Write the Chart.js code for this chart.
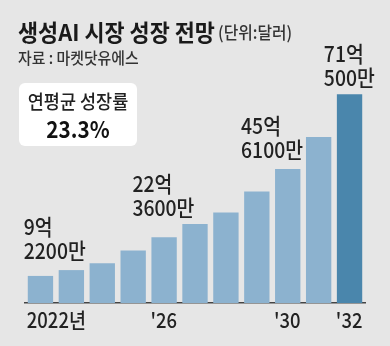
<!DOCTYPE html>
<html>
<head>
<meta charset="utf-8">
<script src="https://cdn.jsdelivr.net/npm/chart.js@4"></script>
<style>
  html, body { margin: 0; padding: 0; background: #e6e6e6; }
  canvas { display: block; }
</style>
</head>
<body>
<canvas id="myChart" width="390" height="346"></canvas>
<script>
// market size in 억 달러, 2022 ~ 2032
const years = ["2022", "2023", "2024", "2025", "2026", "2027", "2028", "2029", "2030", "2031", "2032"];
const marketSize = [9.22, 11.2, 13.5, 17.9, 22.36, 26.9, 30.8, 38.0, 45.61, 56.5, 71.05];
const tickLabels = ["2022년", "", "", "", "'26", "", "", "", "'30", "", "'32"];
const calloutIndex = [0, 4, 8, 10];
const calloutText = [["9억", "2200만"], ["22억", "3600만"], ["45억", "6100만"], ["71억", "500만"]];

// where each callout sits, relative to its bar (left edge / top)
const calloutPos = [
  { dx: -4, dy: -25 },
  { dx: -19, dy: -29 },
  { dx: -34, dy: -19 },
  { dx: -13, dy: -16 },
];

const FONT = '"Noto Sans CJK KR", "Noto Sans", sans-serif';

// y is the visual centre of the glyphs
function txt(ctx, s, x, y, size, weight, color, sx, align) {
  ctx.save();
  ctx.translate(x, y + 0.37 * size);
  ctx.scale(sx, 1);
  ctx.font = weight + " " + size + "px " + FONT;
  ctx.fillStyle = color;
  ctx.textBaseline = "alphabetic";
  ctx.textAlign = align || "left";
  ctx.fillText(s, 0, 0);
  ctx.restore();
}

//background, header and growth box
const decor = {
  id: "decor",
  beforeDraw(chart) {
    const ctx = chart.ctx;
    ctx.save();
    ctx.fillStyle = "#e6e6e6";
    ctx.fillRect(0, 0, chart.width, chart.height);
    ctx.fillStyle = "#ffffff";
    ctx.beginPath();
    ctx.roundRect(19, 83, 118, 63, 6);
    ctx.fill();
    ctx.restore();
  },
  afterDraw(chart) {
    const ctx = chart.ctx;
    txt(ctx, "생성AI 시장 성장 전망", 18, 32, 23, "bold", "#1a1a1a", 0.95);
    txt(ctx, "(단위:달러)", 218, 33, 17, "500", "#333", 0.93);
    txt(ctx, "자료 : 마켓닷유에스", 18, 58, 16, "500", "#333", 0.93);
    txt(ctx, "연평균 성장률", 78, 102, 19, "500", "#222", 0.92, "center");
    txt(ctx, "23.3%", 78, 129, 23, "bold", "#111", 0.9, "center");

    const bars = chart.getDatasetMeta(0).data;
    // x labels, left aligned with the bar
    tickLabels.forEach((lab, i) => {
      if (!lab) return;
      const b = bars[i];
      txt(ctx, lab, b.x - b.width / 2 - 1, 320, 21, "500", "#222", 0.88);
    });
    // value callouts
    calloutIndex.forEach((idx, k) => {
      const b = bars[idx];
      const p = calloutPos[k];
      const x = b.x - b.width / 2 + p.dx;
      const y2 = b.y + p.dy;
      txt(ctx, calloutText[k][0], x, y2 - 24, 22, "500", "#222", 0.88);
      txt(ctx, calloutText[k][1], x, y2, 22, "500", "#222", 0.88);
    });
  },
};

const barColors = years.map((y, i) => (i === years.length - 1 ? "#4a86ac" : "#8cb2cf"));

const ctx = document.getElementById("myChart").getContext("2d");
const chart = new Chart(ctx, {
  type: "bar",
  data: {
    labels: years,
    datasets: [
      {
        data: marketSize,
        backgroundColor: barColors,
        borderWidth: 0,
        barPercentage: 0.82,
        categoryPercentage: 1,
      },
    ],
  },
  options: {
    responsive: false,
    animation: false,
    devicePixelRatio: 1,
    layout: { padding: { left: 25, right: 25, top: 68, bottom: 43 } },
    plugins: { legend: { display: false }, tooltip: { enabled: false } },
    scales: {
      x: {
        grid: { display: false, drawTicks: false },
        ticks: { display: false },
        border: { display: true, color: "#444", width: 1.5 },
      },
      y: { display: false, min: 0, max: 80 },
    },
  },
  plugins: [decor],
});
</script>
</body>
</html>
